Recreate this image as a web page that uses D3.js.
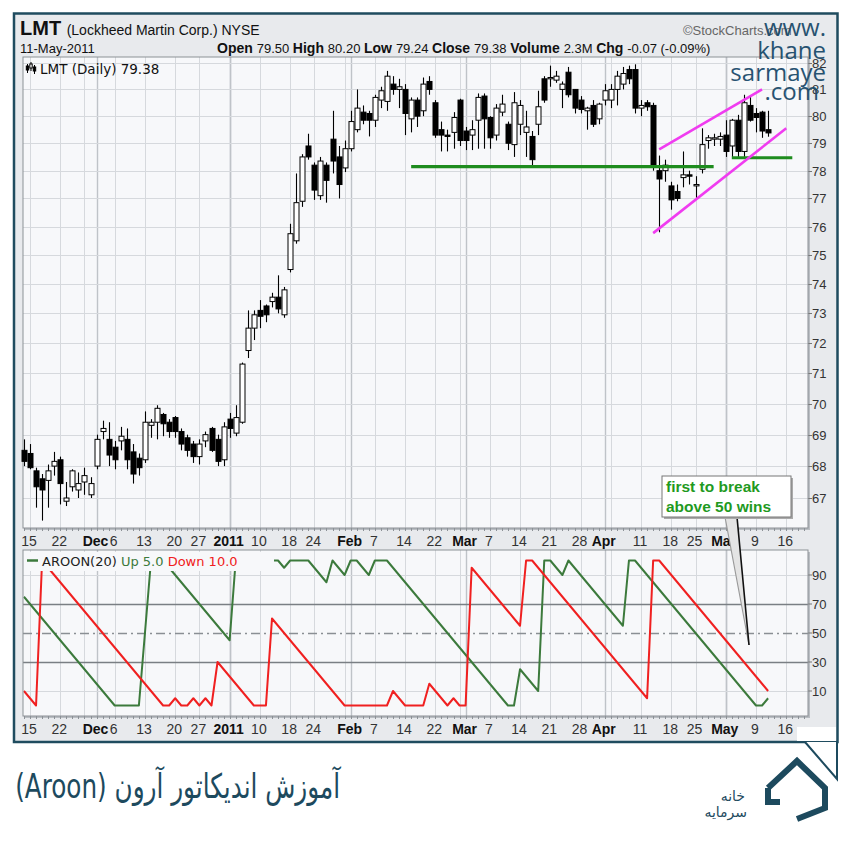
<!DOCTYPE html>
<html><head><meta charset="utf-8">
<script src="https://cdn.jsdelivr.net/npm/d3@7/dist/d3.min.js"></script>
<style>body{margin:0;background:#fff}svg{display:block}</style>
</head><body>
<svg id="chart" width="850" height="850"></svg>
<script>
// ---------------- DATA ----------------
const holidays = ["2010-11-25","2010-12-24","2011-01-17","2011-02-21","2011-04-22"];
// daily OHLC, 2010-11-12 .. 2011-05-11 (trading days)
const open  = [68.5,68.4,67.85,67.6,67.55,68.0,68.2,66.9,67.35,67.25,67.5,67.1,68.0,69.1,68.85,68.6,68.8,68.85,68.45,68.25,
68.2,69.3,69.4,69.65,69.4,69.55,69.1,68.9,68.7,68.3,68.8,69.2,68.85,68.2,69.5,69.05,69.4,71.75,72.5,73.1,
73.25,73.4,73.55,72.95,74.5,75.5,76.9,78.9,78.2,77.1,78.2,79.15,78.5,78.1,78.8,79.5,80.15,80.1,79.85,80.6,
80.55,81.2,81.0,81.0,79.9,80.6,80.2,81.3,80.5,79.5,79.3,79.4,80.6,79.45,79.3,79.85,80.75,79.95,79.3,80.15,
79.7,78.95,79.7,79.4,79.25,79.7,81.4,81.4,81.35,81.0,81.65,81.0,80.6,80.2,80.4,79.9,80.6,80.6,81.0,81.2,
81.75,81.75,80.3,80.5,80.4,78.0,78.0,77.45,77.25,77.75,77.85,77.45,78.05,79.1,79.15,79.15,79.3,78.9,79.85,78.7,
80.4,80.1,80.15,79.5];
const high  = [68.85,68.7,67.95,67.75,68.05,68.45,68.3,67.5,67.9,67.8,67.95,67.65,69.0,69.45,69.4,68.8,69.25,69.2,68.7,68.4,
69.75,69.5,69.95,69.7,69.5,69.6,69.2,69.0,68.8,68.85,69.1,69.25,69.0,69.4,69.7,69.95,71.35,73.1,73.1,73.45,
73.3,73.7,74.3,73.9,76.1,77.9,78.6,79.35,78.3,78.5,78.3,80.2,78.9,79.1,80.2,81.0,80.4,80.2,80.8,81.1,
81.7,81.5,81.4,81.2,80.7,80.7,81.45,81.5,80.6,79.8,79.5,80.15,80.65,79.6,79.85,80.85,80.85,80.0,80.45,80.8,
79.8,80.9,80.6,80.2,79.45,80.95,81.5,81.9,81.7,81.3,81.85,81.0,80.75,80.35,80.6,80.5,81.2,81.2,81.7,81.85,
81.9,81.95,80.6,80.6,80.5,78.55,78.4,77.6,77.5,78.7,78.0,77.8,79.55,79.3,79.35,79.4,79.85,79.9,80.05,80.8,
80.75,80.3,80.2,80.2];
const low   = [68.0,67.9,66.7,66.3,66.7,67.7,66.8,66.75,67.2,67.0,67.1,67.0,67.9,68.85,68.0,67.9,68.5,67.9,67.45,67.7,
68.1,68.9,68.85,68.95,68.9,68.9,68.5,68.3,68.1,68.05,68.6,68.45,68.0,68.0,68.9,68.95,69.35,71.5,72.1,72.5,
72.7,73.2,73.0,72.85,74.4,75.4,76.7,78.4,76.95,76.95,76.85,77.9,77.0,77.95,78.7,79.4,79.7,79.25,79.6,80.3,
80.2,80.8,80.3,79.3,79.4,79.6,80.0,80.8,79.2,78.7,78.7,78.8,78.9,78.75,78.75,78.8,78.8,78.8,79.1,80.0,
78.75,78.5,79.3,78.5,78.15,79.3,80.5,81.1,81.25,80.3,80.7,80.1,80.1,79.5,79.6,79.7,80.4,80.3,80.4,81.0,
81.2,80.1,80.0,80.2,78.0,75.8,77.6,76.6,76.9,77.4,77.5,77.0,77.9,78.8,78.9,78.9,78.5,78.5,78.5,78.5,
79.8,79.4,79.2,79.24];
const close = [68.15,67.95,67.35,67.25,67.85,68.15,67.45,67.0,67.85,67.45,67.7,67.45,68.85,69.2,68.35,68.2,68.95,68.2,67.75,67.95,
69.4,69.4,69.85,69.35,69.1,69.1,68.7,68.5,68.3,68.7,69.0,68.5,68.15,69.25,69.2,69.55,71.3,72.5,72.95,72.9,
72.95,73.55,73.15,73.8,75.75,76.85,78.5,78.5,77.3,78.35,77.65,78.35,77.5,78.8,79.8,80.3,79.85,79.85,80.7,80.95,
81.5,81.0,81.1,80.1,80.6,80.0,81.2,81.0,79.3,79.3,79.25,79.95,79.1,79.1,79.5,80.7,79.9,79.2,80.3,80.45,
79.0,80.5,80.4,79.6,78.4,80.35,80.6,81.45,81.5,81.2,80.8,80.3,80.25,80.3,79.7,80.45,80.95,81.0,81.5,81.6,
81.4,80.3,80.4,80.35,78.2,77.7,78.2,76.95,77.0,77.85,77.8,77.5,78.95,79.2,79.2,79.25,78.7,79.85,78.7,80.5,
79.85,79.95,79.45,79.38];
// Aroon(20)
const aroonUp = [75,70,65,60,55,50,45,40,35,30,25,20,15,10,5,0,0,0,0,0,
50,100,100,100,95,90,85,80,75,70,65,60,55,50,45,100,100,100,100,100,
100,100,100,95,100,100,100,100,95,90,85,100,95,90,100,100,95,90,100,100,
100,95,90,85,80,75,70,65,60,55,50,45,40,35,30,25,20,15,10,5,
0,0,25,20,15,10,100,100,95,90,100,95,90,85,80,75,70,65,60,55,
100,100,95,90,85,80,75,70,65,60,55,50,45,40,35,30,25,20,15,10,
5,0,0,5];
const aroonDown = [10,5,0,100,95,90,85,80,75,70,65,60,55,50,45,40,35,30,25,20,
15,10,5,0,0,5,0,0,5,0,5,0,30,25,20,15,10,5,0,0,
0,60,55,50,45,40,35,30,25,20,15,10,5,0,0,0,0,0,0,0,
0,10,5,0,0,0,0,15,10,5,0,5,0,0,95,90,85,80,75,70,
65,60,55,100,100,95,90,85,80,75,70,65,60,55,50,45,40,35,30,25,
20,15,10,5,100,100,95,90,85,80,75,70,65,60,55,50,45,40,35,30,
25,20,15,10];
const priceTicks = [67,68,69,70,71,72,73,74,75,76,77,78,79,80,81,82];
const aroonTicks = [10,30,50,70,90];
const tickDates  = ["2010-11-15","2010-11-22","2010-12-01","2010-12-06","2010-12-13","2010-12-20","2010-12-27","2011-01-03","2011-01-10","2011-01-18","2011-01-24","2011-02-01","2011-02-07","2011-02-14","2011-02-22","2011-03-01","2011-03-07","2011-03-14","2011-03-21","2011-03-28","2011-04-01","2011-04-11","2011-04-18","2011-04-25","2011-05-02","2011-05-09","2011-05-16"];
const tickLabels = ["15","22","Dec","6","13","20","27","2011","10","18","24","Feb","7","14","22","Mar","7","14","21","28","Apr","11","18","25","May","9","16"];
const boldTicks  = ["Dec","2011","Feb","Mar","Apr","May"];
// annotations: [date, price] endpoints
const supportLine1 = [["2011-02-15",78.15],["2011-04-28",78.15]];
const supportLine2 = [["2011-05-03",78.47],["2011-05-17",78.47]];
const channelUpper = [["2011-04-14",78.78],["2011-05-10",81.0]];
const channelLower = [["2011-04-13",75.77],["2011-05-16",79.55]];

// ---------------- TRADING CALENDAR ----------------
const fmt = d3.timeFormat("%Y-%m-%d");
const dates = [];
for (let d = new Date(2010,10,12); d <= new Date(2011,4,24); d = d3.timeDay.offset(d,1)) {
  const w = d.getDay();
  if (w===0 || w===6 || holidays.includes(fmt(d))) continue;
  dates.push(fmt(d));
}
const kOf = s => dates.indexOf(s);
const bars = open.map((o,i)=>({k:i,o:o,h:high[i],l:low[i],c:close[i]}));

// ---------------- SCALES ----------------
const x  = d3.scaleLinear().domain([1,121]).range([30,756]);
const y  = d3.scaleLog().domain([67,82]).range([498,63]);
const ya = d3.scaleLinear().domain([10,90]).range([691,575]);
const P = {l:23, r:808, t:57, b:528};
const A = {l:23, r:808, t:550, b:716};

const svg = d3.select("#chart");
const SANS = "'Liberation Sans', Arial, sans-serif";
const VERD = "'DejaVu Sans', Verdana, sans-serif";

svg.append("rect").attr("width",850).attr("height",850).attr("fill","#fff");
// outer frame
svg.append("path")
  .attr("d","M14,13.5 H837.5 V742 H14 Z")
  .attr("fill","#e8eaed").attr("stroke","#1f4c5f").attr("stroke-width",2.5);

// ---------------- HEADER ----------------
const hdr = svg.append("g").attr("font-family",SANS).attr("fill","#111");
const t1 = hdr.append("text").attr("x",20).attr("y",35);
t1.append("tspan").attr("font-size",20).attr("font-weight","bold").text("LMT ");
t1.append("tspan").attr("font-size",14).text("(Lockheed Martin Corp.) NYSE");
hdr.append("text").attr("x",20).attr("y",53).attr("font-size",13).text("11-May-2011");
const t2 = hdr.append("text").attr("x",217).attr("y",53).attr("font-size",14);
[["Open","79.50"],["High","80.20"],["Low","79.24"],["Close","79.38"],["Volume","2.3M"],["Chg","-0.07 (-0.09%)"]].forEach(([a,b])=>{
  t2.append("tspan").attr("font-weight","bold").text(a+" ");
  t2.append("tspan").attr("font-size",13).text(b+"  ");
});
hdr.append("text").attr("x",683).attr("y",35).attr("font-size",13).attr("fill","#666").text("\u00a9StockCharts.com");

// ---------------- PANELS ----------------
function panelBg(R){
  svg.append("rect").attr("x",R.l+2).attr("y",R.t+2).attr("width",R.r-R.l).attr("height",R.b-R.t).attr("fill","#b9bdc2");
  svg.append("rect").attr("x",R.l).attr("y",R.t).attr("width",R.r-R.l).attr("height",R.b-R.t).attr("fill","#f7f8fa");
}
panelBg(P); panelBg(A);

// vertical grid: week starts and month starts
const weekStarts = dates.filter((d,i)=> i>0 && (new Date(d).getUTCDay() < new Date(dates[i-1]).getUTCDay()));
const monthStarts = dates.filter((d,i)=> i>0 && d.slice(5,7)!==dates[i-1].slice(5,7));
function vgrid(R){
  const g = svg.append("g");
  weekStarts.concat(monthStarts).forEach(d=>{
    const xx = Math.round(x(kOf(d)))+0.5;
    if (xx<R.l || xx>R.r) return;
    g.append("line").attr("x1",xx).attr("x2",xx).attr("y1",R.t).attr("y2",R.b)
      .attr("stroke", monthStarts.includes(d) ? "#bfc3c8" : "#d6d9dd").attr("stroke-width",monthStarts.includes(d)?1.4:1);
  });
}
vgrid(P); vgrid(A);
// horizontal grid price
priceTicks.forEach(p=>{
  const yy = Math.round(y(p))+0.5;
  svg.append("line").attr("x1",P.l).attr("x2",P.r).attr("y1",yy).attr("y2",yy).attr("stroke","#d6d9dd");
  svg.append("line").attr("x1",P.r).attr("x2",P.r+4).attr("y1",yy).attr("y2",yy).attr("stroke","#777");
  svg.append("text").attr("x",P.r+4).attr("y",yy+4.5).attr("font-family",SANS).attr("font-size",13).attr("fill","#333").text(p);
});
svg.append("rect").attr("x",P.l).attr("y",P.t).attr("width",P.r-P.l).attr("height",P.b-P.t)
  .attr("fill","none").attr("stroke","#8c9196");

// daily ticks on bottom axis lines
function dayTicks(R){
  const g = svg.append("g").attr("stroke","#8c9196");
  dates.forEach((d,i)=>{ const xx=Math.round(x(i))+0.5; if(xx>R.l && xx<R.r) g.append("line").attr("x1",xx).attr("x2",xx).attr("y1",R.b).attr("y2",R.b+3); });
}
dayTicks(P); dayTicks(A);

// candles
const cg = svg.append("g");
bars.forEach(b=>{
  const xx = Math.round(x(b.k))+0.5;
  cg.append("line").attr("x1",xx).attr("x2",xx).attr("y1",y(b.h)).attr("y2",y(b.l)).attr("stroke","#000").attr("stroke-width",1.1);
  const top = y(Math.max(b.o,b.c)), bot = y(Math.min(b.o,b.c));
  cg.append("rect").attr("x",xx-2.5).attr("y",top).attr("width",5).attr("height",Math.max(1,bot-top))
    .attr("fill", b.c>=b.o ? "#fff" : "#000").attr("stroke","#000").attr("stroke-width",1);
});

// annotations
function seg(pts,color,w){
  svg.append("line").attr("x1",x(kOf(pts[0][0]))).attr("y1",y(pts[0][1]))
    .attr("x2",x(kOf(pts[1][0]))).attr("y2",y(pts[1][1]))
    .attr("stroke",color).attr("stroke-width",w);
}
seg(supportLine1,"#1e8c1e",3.2);
seg(supportLine2,"#1e8c1e",3.2);
seg(channelUpper,"#f03cf0",2.6);
seg(channelLower,"#f03cf0",2.6);

// price legend
const ic = svg.append("g").attr("stroke","#000").attr("fill","#000");
[[27.5,64,73],[31,62,71],[34.5,65,74]].forEach(([a,b,c],i)=>{
  ic.append("line").attr("x1",a).attr("x2",a).attr("y1",b).attr("y2",c).attr("stroke-width",1);
  ic.append("rect").attr("x",a-1.2).attr("y",b+2).attr("width",2.4).attr("height",4).attr("fill",i===1?"#fff":"#000");
});
svg.append("text").attr("x",40).attr("y",74).attr("font-family",VERD).attr("font-size",13.5).attr("fill","#111").text("LMT (Daily) 79.38");

// date labels
function dateLabels(yy){
  const g = svg.append("g").attr("font-family",SANS).attr("font-size",14).attr("fill","#222").attr("text-anchor","middle");
  tickDates.forEach((d,i)=>{
    g.append("text").attr("x",x(kOf(d))-1).attr("y",yy)
      .attr("font-weight", boldTicks.includes(tickLabels[i])?"bold":"normal")
      .attr("fill", boldTicks.includes(tickLabels[i])?"#111":"#333").text(tickLabels[i]);
  });
}
dateLabels(546);

// ---------------- AROON PANEL ----------------
[10,90].forEach(v=>{
  const yy=Math.round(ya(v))+0.5;
  svg.append("line").attr("x1",A.l).attr("x2",A.r).attr("y1",yy).attr("y2",yy).attr("stroke","#d6d9dd");
});
[30,70].forEach(v=>{
  const yy=Math.round(ya(v))+0.5;
  svg.append("line").attr("x1",A.l).attr("x2",A.r).attr("y1",yy).attr("y2",yy).attr("stroke","#7a7f84").attr("stroke-width",1.3);
});
svg.append("line").attr("x1",A.l).attr("x2",A.r).attr("y1",Math.round(ya(50))+0.5).attr("y2",Math.round(ya(50))+0.5)
  .attr("stroke","#8a8f94").attr("stroke-width",1.3).attr("stroke-dasharray","9,4,2,4");
aroonTicks.forEach(v=>{
  const yy = ya(v);
  svg.append("line").attr("x1",A.r).attr("x2",A.r+4).attr("y1",yy).attr("y2",yy).attr("stroke","#777");
  svg.append("text").attr("x",A.r+4).attr("y",yy+4.5).attr("font-family",SANS).attr("font-size",13).attr("fill","#333").text(v);
});
const line = arr => d3.line().x((d,i)=>x(i)).y(d=>ya(d))(arr);
svg.append("defs").append("clipPath").attr("id","aclip").append("rect")
  .attr("x",A.l).attr("y",A.t).attr("width",A.r-A.l).attr("height",A.b-A.t);
svg.append("path").attr("d",line(aroonUp)).attr("fill","none").attr("stroke","#3c7a3c").attr("stroke-width",2).attr("clip-path","url(#aclip)").attr("stroke-linejoin","round");
svg.append("path").attr("d",line(aroonDown)).attr("fill","none").attr("stroke","#f02020").attr("stroke-width",2).attr("clip-path","url(#aclip)").attr("stroke-linejoin","round");
svg.append("rect").attr("x",A.l).attr("y",A.t).attr("width",A.r-A.l).attr("height",A.b-A.t).attr("fill","none").attr("stroke","#8c9196");
// aroon legend
svg.append("rect").attr("x",A.l+1).attr("y",A.t+2).attr("width",250).attr("height",19).attr("fill","#f7f8fa");
svg.append("line").attr("x1",27).attr("x2",38).attr("y1",560.5).attr("y2",560.5).attr("stroke","#3c7a3c").attr("stroke-width",2.5);
const al = svg.append("text").attr("x",42).attr("y",566).attr("font-family",VERD).attr("font-size",13);
al.append("tspan").attr("fill","#222").text("AROON(20) ");
al.append("tspan").attr("fill","#3c7a3c").text("Up 5.0 ");
al.append("tspan").attr("fill","#f02020").text("Down 10.0");
dateLabels(734);

// white notch at lower right of the chart image
svg.append("path").attr("d","M797,727 H836 V741 H797 Z").attr("fill","#fff");

// ---------------- CALLOUT ----------------
svg.append("path").attr("d","M725,517 L737,517 L749,645 Z").attr("fill","#e4e4e4").attr("stroke","none");
svg.append("line").attr("x1",725).attr("y1",517).attr("x2",749).attr("y2",645).attr("stroke","#999").attr("stroke-width",1.2);
svg.append("line").attr("x1",737).attr("y1",517).attr("x2",749).attr("y2",645).attr("stroke","#111").attr("stroke-width",1.6);
svg.append("rect").attr("x",664).attr("y",478).attr("width",129).attr("height",41).attr("fill","#aaa");
svg.append("rect").attr("x",662).attr("y",476).attr("width",129).attr("height",41).attr("fill","#fff").attr("stroke","#777");
const ct = svg.append("g").attr("font-family",SANS).attr("font-weight","bold").attr("font-size",15.5).attr("fill","#1f9a1f");
ct.append("text").attr("x",666).attr("y",492).text("first to break");
ct.append("text").attr("x",666).attr("y",512).text("above 50 wins");

// ---------------- WATERMARK ----------------
const wm = svg.append("g").attr("font-family","'Open Sans', sans-serif").attr("font-size",24).attr("fill","#1b4b6b").attr("text-anchor","end").attr("opacity",0.95);
wm.append("text").attr("x",826).attr("y",36).text("www.");
wm.append("text").attr("x",826).attr("y",59).text("khane");
wm.append("text").attr("x",826).attr("y",81).text("sarmaye");
wm.append("text").attr("x",819).attr("y",100).text(".com");

// ---------------- TITLE & LOGO ----------------
const tg = svg.append("g").attr("transform","translate(340,798)");
const title = tg.append("text").attr("x",0).attr("y",0).attr("font-family",VERD)
  .attr("font-size",34).attr("fill","#1d4a5e").attr("direction","rtl").attr("text-anchor","start")
  .text("آموزش اندیکاتور آرون (Aroon)");
const tw = title.node().getComputedTextLength();
if (tw>0) tg.attr("transform",`translate(340,798) scale(${325/tw},1)`);

// frame corner diagonal (top of logo)
svg.append("path").attr("d","M805,742 L837,779 V742").attr("fill","#fff").attr("stroke","#1d4a5e").attr("stroke-width",2);
const logo = svg.append("g").attr("fill","none").attr("stroke","#1d4a5e");
logo.append("path").attr("d","M768,788 L797,761 L825,788 L825,808 L797,819 M768,788 L768,802 L780,802")
  .attr("stroke-width",6).attr("stroke-linejoin","miter");
svg.append("text").attr("x",745).attr("y",801).attr("font-family",VERD).attr("font-size",14).attr("fill","#1d4a5e").attr("text-anchor","end").text("خانه");
svg.append("text").attr("x",747).attr("y",817).attr("font-family",VERD).attr("font-size",14).attr("fill","#1d4a5e").attr("text-anchor","end").text("سرمایه");
</script>
</body></html>
